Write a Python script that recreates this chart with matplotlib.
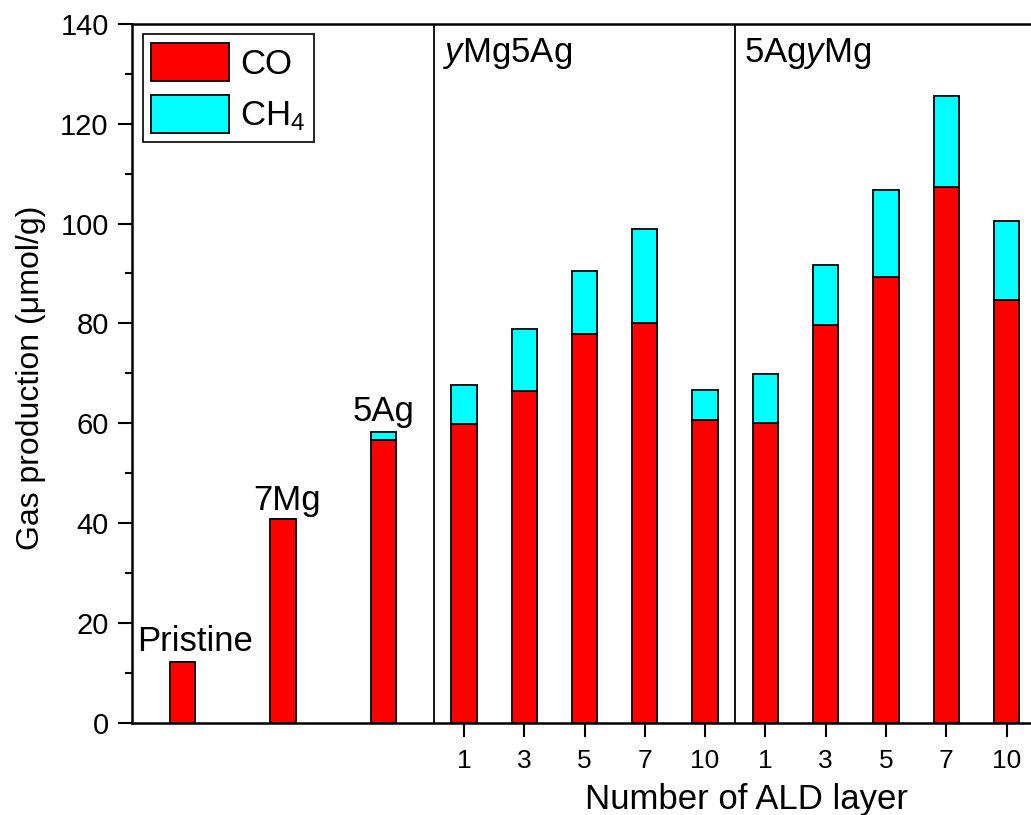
import matplotlib
matplotlib.use("Agg")
import matplotlib.pyplot as plt
from matplotlib.ticker import MultipleLocator
import numpy as np

plt.rcParams["font.family"] = ["Liberation Sans", "DejaVu Sans"]
plt.rcParams["mathtext.fontset"] = "custom"
plt.rcParams["mathtext.rm"] = "Liberation Sans"
plt.rcParams["mathtext.it"] = "Liberation Sans:italic"

# reference samples
ref_labels = ["Pristine", "7Mg", "5Ag"]
ref_co = [12.2, 40.9, 56.7]
ref_ch4 = [0.0, 0.0, 1.5]

# ALD layer series
layers = ["1", "3", "5", "7", "10"]
group_names = ["$\\it{y}$Mg5Ag", "5Ag$\\it{y}$Mg"]
ymg5ag_co = [59.9, 66.5, 77.9, 80.0, 60.6]
ymg5ag_ch4 = [7.8, 12.3, 12.7, 19.0, 6.1]
ag5ymg_co = [60.1, 79.6, 89.3, 107.3, 84.6]
ag5ymg_ch4 = [9.8, 12.2, 17.4, 18.3, 15.9]

CO_COLOR = "#ff0000"
CH4_COLOR = "#00ffff"
W = 0.42
FS = 25

fig = plt.figure(figsize=(10.31, 8.15), dpi=100)
ax = fig.add_axes([0.1283, 0.1133, 0.8773, 0.8573])

bar_kw = dict(width=W, edgecolor="black", linewidth=1.3, zorder=3)

# first section: three single samples spread over x = 0..5
x_ref = (np.arange(3) + 0.5) * 5 / 3
ax.bar(x_ref, ref_co, color=CO_COLOR, **bar_kw)
ax.bar(x_ref, ref_ch4, bottom=ref_co, color=CH4_COLOR, **bar_kw)
offsets = [(9, 8), (3, 6), (0, 8)]
for x, co, ch4, lab, (dx, dy) in zip(x_ref, ref_co, ref_ch4, ref_labels, offsets):
    ax.annotate(lab, (x, co + ch4), xytext=(dx, dy), textcoords="offset points",
                ha="center", va="baseline", fontsize=FS)

# two ALD groups, five bars each
tick_pos = []
tick_lab = []
for g, (co, ch4, name) in enumerate(zip([ymg5ag_co, ag5ymg_co],
                                        [ymg5ag_ch4, ag5ymg_ch4], group_names)):
    x0 = 5 + 5 * g
    xs = x0 + np.arange(len(layers)) + 0.5
    ax.bar(xs, co, color=CO_COLOR, label="CO" if g == 0 else None, **bar_kw)
    ax.bar(xs, ch4, bottom=co, color=CH4_COLOR,
           label="CH$_4$" if g == 0 else None, **bar_kw)
    ax.axvline(x0, color="black", lw=1.3, zorder=2)
    ax.text(x0 + 0.15, 137.6, name, ha="left", va="top", fontsize=FS)
    tick_pos.extend(xs)
    tick_lab.extend(layers)

ax.set_xlim(0, 15)
ax.set_ylim(0, 140)
ax.set_xticks(tick_pos)
ax.set_xticklabels(tick_lab)
ax.yaxis.set_major_locator(MultipleLocator(20))
ax.yaxis.set_minor_locator(MultipleLocator(10))
ax.tick_params(axis="both", which="major", direction="out", length=10,
               width=1.5)
ax.tick_params(axis="y", which="minor", direction="out", length=5, width=1.5)
ax.tick_params(axis="x", labelsize=19, pad=9)
ax.tick_params(axis="y", labelsize=21, pad=7)
for s in ax.spines.values():
    s.set_linewidth(1.8)

ax.set_ylabel("Gas production (\u03bcmol/g)", fontsize=23)
ax.yaxis.set_label_coords(-0.095, 0.493)
ax.set_xlabel("Number of ALD layer", fontsize=FS)
ax.xaxis.set_label_coords(0.679, -0.087)

leg = ax.legend(loc="upper left", bbox_to_anchor=(0.0115, 0.985),
                borderaxespad=0, fontsize=FS, handlelength=2.25,
                handleheight=1.3, handletextpad=0.3, borderpad=0.25,
                labelspacing=0.4, fancybox=False, framealpha=1,
                edgecolor="black")
leg.get_frame().set_linewidth(1.2)

fig.savefig("out.png", dpi=100)
